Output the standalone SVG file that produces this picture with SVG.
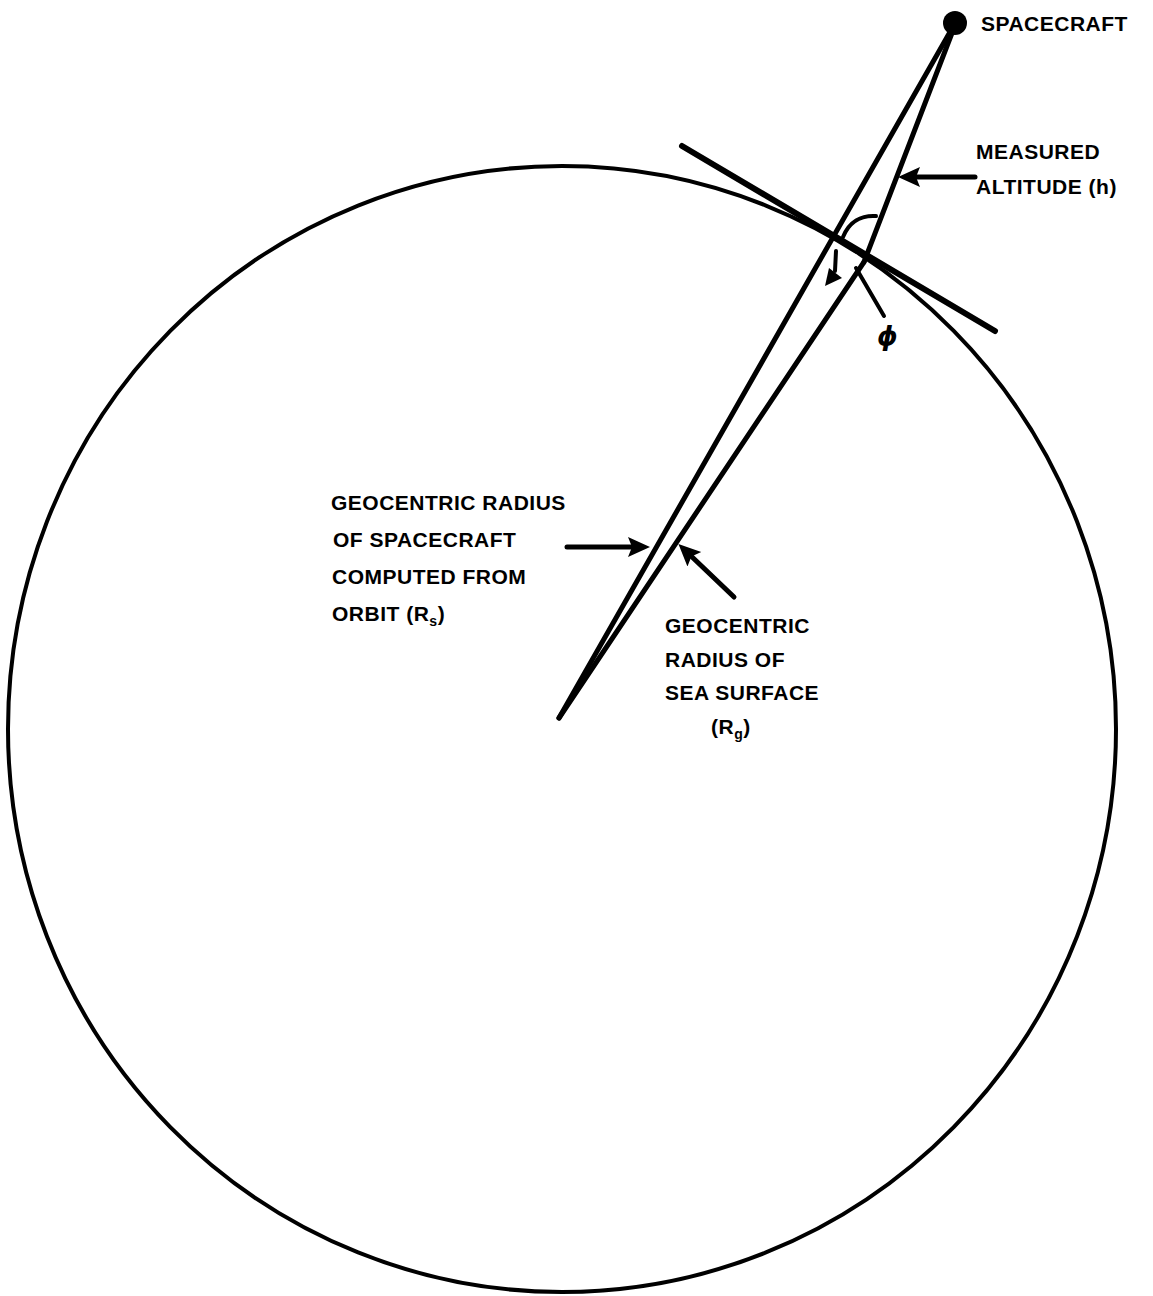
<svg xmlns="http://www.w3.org/2000/svg" width="1153" height="1296" viewBox="0 0 1153 1296">
<style>
.lbl{font-family:"Liberation Sans",Arial,sans-serif;font-weight:bold;font-size:21px;letter-spacing:0.5px;fill:#000}
.sub{font-size:14px}
.ln{stroke:#000;fill:none;stroke-linecap:round}
</style>
<defs>
<marker id="ah" markerUnits="userSpaceOnUse" markerWidth="22" markerHeight="22" viewBox="0 0 22 22" refX="6" refY="11" orient="auto">
<path d="M0,1 L22,11 L0,21 L4,11 z" fill="#000"/>
</marker>
</defs>
<rect width="1153" height="1296" fill="#fff"/>
<g id="earth">
<ellipse cx="562" cy="729" rx="554" ry="563" fill="none" stroke="#000" stroke-width="4"/>
</g>
<g id="spacecraft">
<circle cx="955" cy="23" r="12" fill="#000"/>
<text class="lbl" x="981" y="31">SPACECRAFT</text>
</g>
<g id="connectors">
<line id="tangent" class="ln" x1="682" y1="146" x2="995" y2="331" stroke-width="6"/>
<line id="rs-line" class="ln" x1="950" y1="32" x2="559" y2="718" stroke-width="5"/>
<line id="h-line" class="ln" x1="952" y1="33" x2="864" y2="262" stroke-width="5"/>
<line id="rg-line" class="ln" x1="864" y1="262" x2="559" y2="718" stroke-width="5"/>
<path id="angle-arc" class="ln" d="M843,237 C849,222 861,215 876,216" stroke-width="4"/>
<line id="phi-leader" class="ln" x1="856" y1="268" x2="884" y2="316" stroke-width="4"/>
<line x1="841" y1="249" x2="857" y2="256" stroke="#fff" stroke-width="2"/>
<line id="small-arrow" class="ln" x1="836" y1="251" x2="835" y2="271" stroke-width="4"/>
<polygon points="825,286 829,268 842,278" fill="#000"/>
<line id="h-arrow" class="ln" x1="975" y1="177" x2="914" y2="177" stroke-width="5" marker-end="url(#ah)"/>
<line id="rs-arrow" class="ln" x1="567" y1="547" x2="634" y2="547" stroke-width="5" marker-end="url(#ah)"/>
<line id="rg-arrow" class="ln" x1="734" y1="597" x2="690" y2="555" stroke-width="5" marker-end="url(#ah)"/>
</g>
<g id="label-h">
<text class="lbl" x="976" y="159">MEASURED</text>
<text class="lbl" x="976" y="194">ALTITUDE (h)</text>
</g>
<g id="label-rs">
<text class="lbl" x="331" y="510">GEOCENTRIC RADIUS</text>
<text class="lbl" x="333" y="547">OF SPACECRAFT</text>
<text class="lbl" x="332" y="584">COMPUTED FROM</text>
<text class="lbl" x="332" y="621">ORBIT (R<tspan class="sub" dy="5">s</tspan><tspan dy="-5">)</tspan></text>
</g>
<g id="label-rg">
<text class="lbl" x="665" y="633">GEOCENTRIC</text>
<text class="lbl" x="665" y="667">RADIUS OF</text>
<text class="lbl" x="665" y="700">SEA SURFACE</text>
<text class="lbl" x="711" y="734">(R<tspan class="sub" dy="5">g</tspan><tspan dy="-5">)</tspan></text>
</g>
<g id="label-phi">
<text x="877" y="345" style="font-family:'DejaVu Sans',sans-serif;font-style:italic;font-weight:bold;font-size:26px">ϕ</text>
</g>
</svg>
